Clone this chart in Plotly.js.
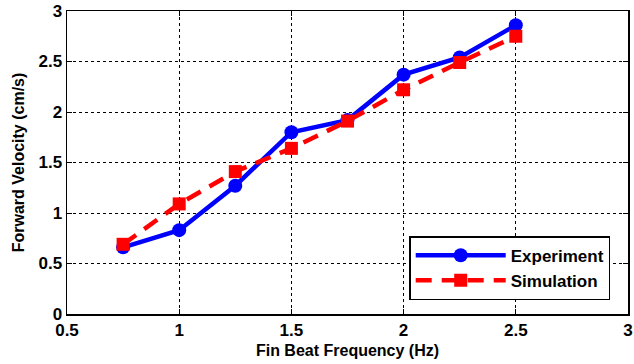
<!DOCTYPE html>
<html>
<head>
<script src="https://cdn.plot.ly/plotly-3.0.1.min.js"></script>
<style>body{margin:0;padding:0;background:#fff;}#chart{width:634px;height:364px;}</style>
</head>
<body>
<div id="chart"></div>
<script>
var frequency = [0.75, 1, 1.25, 1.5, 1.75, 2, 2.25, 2.5];
var experiment = [0.66, 0.83, 1.27, 1.80, 1.92, 2.37, 2.54, 2.86];
var simulation = [0.69, 1.09, 1.41, 1.64, 1.91, 2.22, 2.49, 2.75];
var xTicks = [0.5, 1, 1.5, 2, 2.5, 3];
var xTickText = ['0.5', '1', '1.5', '2', '2.5', '3'];
var yTicks = [0, 0.5, 1, 1.5, 2, 2.5, 3];
var yTickText = ['0', '0.5', '1', '1.5', '2', '2.5', '3'];

var fam = 'Liberation Sans';
var traces = [
  {x: frequency, y: experiment, name: '<b>Experiment</b>', type: 'scatter', mode: 'lines+markers',
   line: {color: '#0000ff', width: 4.5}, marker: {color: '#0000ff', size: 14, symbol: 'circle'}},
  {x: frequency, y: simulation, name: '<b>Simulation</b>', type: 'scatter', mode: 'lines+markers',
   line: {color: '#ff0000', width: 4.5, dash: '16px,10px'}, marker: {color: '#ff0000', size: 13, symbol: 'square'}}
];
function axis(range, vals, text, title, standoff) {
  return {
    range: range, tickmode: 'array', tickvals: vals, ticktext: text,
    showline: true, linecolor: '#000', linewidth: 1.5, mirror: 'ticks',
    ticks: 'inside', ticklen: 5, tickcolor: '#000', tickwidth: 1,
    showgrid: true, gridcolor: '#000', gridwidth: 1, griddash: 'dot',
    zeroline: false,
    tickfont: {family: fam, size: 17, color: '#000', weight: 'bold'},
    title: {text: title, font: {family: fam, size: 16, color: '#000', weight: 'bold'}, standoff: standoff}
  };
}
var layout = {
  width: 634, height: 364,
  margin: {l: 67, r: 6, t: 11, b: 50},
  paper_bgcolor: '#fff', plot_bgcolor: '#fff',
  font: {family: fam, size: 16, color: '#000', weight: 'bold'},
  showlegend: true,
  legend: {x: 0.61, y: 0.257, xanchor: 'left', yanchor: 'top',
    bgcolor: '#fff', bordercolor: '#000', borderwidth: 1.5, itemwidth: 90,
    tracegroupgap: 0,
    font: {family: fam, size: 17, color: '#000', weight: 'bold'}},
  xaxis: axis([0.5, 3], xTicks, xTickText, 'Fin Beat Frequency (Hz)', 6),
  yaxis: axis([0, 3], yTicks, yTickText, 'Forward Velocity (cm/s)', 10)
};
Plotly.newPlot('chart', traces, layout, {displayModeBar: false, staticPlot: true});
</script>
</body>
</html>
